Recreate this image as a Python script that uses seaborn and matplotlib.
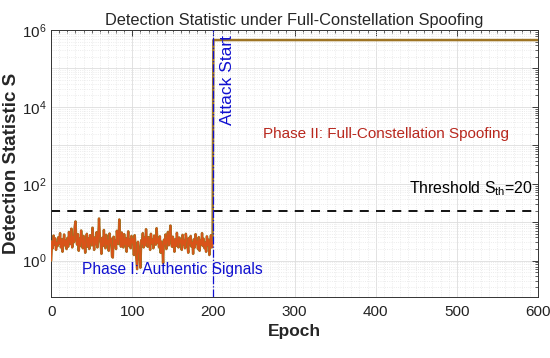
import numpy as np
import pandas as pd
import matplotlib
matplotlib.use('Agg')
import matplotlib.pyplot as plt
import matplotlib.ticker as mticker
import seaborn as sns

# --- Data --------------------------------------------------------------------
S_authentic = [
    1.0, 3.2, 2.1, 4.5, 2.6, 3.8, 1.9, 3.0, 2.4, 4.1,
    2.8, 5.2, 2.2, 3.6, 1.7, 2.9, 4.8, 2.5, 3.3, 2.0,
    3.9, 2.3, 5.6, 3.1, 2.7, 6.8, 2.2, 4.2, 3.0, 7.5,
    10.5, 3.4, 2.6, 4.9, 1.8, 3.7, 2.4, 6.1, 3.2, 2.1,
    4.4, 2.9, 1.6, 3.5, 5.0, 2.3, 3.8, 2.0, 4.6, 3.1,
    2.5, 7.2, 3.3, 1.9, 4.0, 2.7, 5.5, 2.2, 3.6, 12.5,
    4.3, 2.8, 1.5, 3.9, 2.4, 6.3, 3.0, 2.1, 4.7, 2.6,
    3.4, 1.8, 5.1, 2.9, 3.7, 1.3, 1.2, 4.2, 2.5, 3.3,
    2.0, 6.0, 3.5, 2.7, 11.8, 4.1, 2.3, 5.4, 3.0, 2.2,
    4.9, 2.6, 3.8, 1.7, 3.2, 5.8, 2.4, 3.6, 2.1, 4.4,
    2.9, 3.7, 1.4, 4.6, 2.3, 1.1, 0.6, 3.1, 2.0, 1.5,
    0.65, 3.4, 2.7, 5.2, 2.2, 3.9, 2.5, 6.6, 3.0, 2.3,
    4.1, 3.2, 1.9, 5.0, 2.8, 3.6, 2.1, 4.5, 3.3, 2.6,
    7.0, 2.9, 3.8, 2.2, 4.3, 1.6, 3.1, 2.4, 0.85, 3.5,
    2.7, 4.8, 2.0, 3.4, 5.6, 2.5, 3.9, 8.2, 3.0, 2.3,
    4.2, 2.8, 1.7, 3.6, 2.4, 5.3, 3.1, 2.2, 4.0, 2.9,
    3.5, 1.9, 4.7, 2.6, 3.3, 2.1, 5.0, 3.7, 2.5, 1.6,
    3.9, 2.7, 4.4, 2.3, 3.0, 1.5, 3.6, 2.2, 4.9, 2.8,
    3.2, 2.0, 4.1, 1.8, 3.4, 2.6, 5.2, 2.4, 3.7, 2.1,
    3.0, 1.7, 4.3, 2.5, 3.5, 1.4, 2.9, 4.6, 2.2, 3.1,
]
epochs_authentic = list(range(len(S_authentic)))
epochs_spoof = [200, 600]
S_spoof = [5.5e5, 5.5e5]
threshold = 20
attack_epoch = 200
x_ticks = [0, 100, 200, 300, 400, 500, 600]

# --- Style -------------------------------------------------------------------
sns.set_theme(style='white')
FONT = ['Liberation Sans', 'DejaVu Sans']
plt.rcParams.update({
    'font.family': FONT,
    'font.size': 11,
    'mathtext.fontset': 'custom',
    'mathtext.rm': 'Liberation Sans',
    'mathtext.it': 'Liberation Sans',
    'xtick.direction': 'in',
    'ytick.direction': 'in',
})
ORANGE = '#D95319'
BROWN  = '#9E7424'
BLUE   = '#1010D0'
DRED   = '#B8281E'

df = pd.DataFrame({
    'Epoch': epochs_authentic + epochs_spoof,
    'S': S_authentic + S_spoof,
})
df_auth = pd.DataFrame({'Epoch': epochs_authentic, 'S': S_authentic})

fig = plt.figure(figsize=(5.5, 3.58), dpi=100)
ax = fig.add_axes([0.093, 0.17, 0.885, 0.746])

ax.set_yscale('log')
ax.set_xlim(0, 600)
ax.set_ylim(10**-0.95, 1e6)

sns.lineplot(data=df, x='Epoch', y='S', ax=ax, color=BROWN, linewidth=1.8,
             estimator=None, sort=False, zorder=3)
sns.lineplot(data=df_auth, x='Epoch', y='S', ax=ax, color=ORANGE, linewidth=1.0,
             estimator=None, sort=False, zorder=4)

ax.axhline(threshold, color='black', linestyle=(0, (5, 4)), linewidth=1.3, zorder=2)
ax.axvline(attack_epoch, color=BLUE, linestyle='-.', linewidth=0.9, zorder=5)

# grid
ax.xaxis.set_minor_locator(mticker.MultipleLocator(10))
ax.yaxis.set_major_locator(mticker.LogLocator(base=10, numticks=20))
ax.yaxis.set_minor_locator(mticker.LogLocator(base=10, subs=np.arange(2, 10), numticks=20))
ax.yaxis.set_major_formatter(mticker.FuncFormatter(
    lambda v, p: f'$10^{{{int(round(np.log10(v)))}}}$' if int(round(np.log10(v))) % 2 == 0 else ''))
ax.grid(True, which='major', color='#DDDDDD', linewidth=0.6)
ax.grid(True, which='minor', color='#E6E6E6', linestyle=':', linewidth=0.6)
ax.set_axisbelow(True)

ax.set_xticks(x_ticks)
ax.tick_params(which='both', top=True, right=True, labelsize=11, colors='#222222')
ax.tick_params(which='major', length=4, width=0.6)
ax.tick_params(which='minor', length=2, width=0.5)
ax.tick_params(axis='x', pad=6)
for sp in ax.spines.values():
    sp.set_color('#333333')
    sp.set_linewidth(0.7)

ax.set_title('Detection Statistic under Full-Constellation Spoofing', fontsize=11.8, pad=4)
ax.set_xlabel('Epoch', fontsize=12.5, fontweight='bold', labelpad=3)
ax.set_ylabel('Detection Statistic S', fontsize=13.5, fontweight='bold', labelpad=1)

ax.text(217, 10**5.88, 'Attack Start', rotation=90, color=BLUE, fontsize=12.5,
        ha='center', va='top', zorder=6)
ax.text(261, 2000, 'Phase II: Full-Constellation Spoofing', color=DRED, fontsize=11,
        ha='left', va='center', zorder=6)
ax.text(38, 0.6, 'Phase I: Authentic Signals', color=BLUE, fontsize=11.2,
        ha='left', va='center', zorder=6)
ax.text(594, 58, 'Threshold S$_{\\rm th}$=20', color='black', fontsize=11.4,
        ha='right', va='baseline', zorder=6)

fig.savefig('out.png', dpi=100)
